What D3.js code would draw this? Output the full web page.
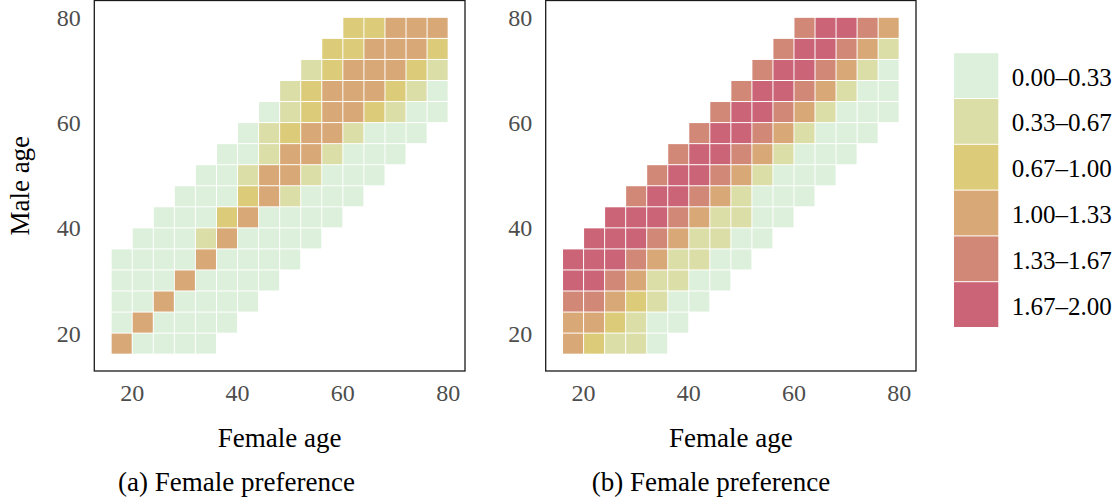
<!DOCTYPE html>
<html><head><meta charset="utf-8">
<script src="https://cdn.jsdelivr.net/npm/d3@7"></script>
<style>
html,body{margin:0;padding:0;background:#fff;}
svg{display:block;}
text{font-family:"Liberation Serif","DejaVu Serif",serif;font-variant-numeric:oldstyle-nums;}
</style></head><body>
<svg id="chart" width="1119" height="502"></svg>
<script>
// ---- data ----
const binStarts = [16,20,24,28,32,36,40,44,48,52,56,60,64,68,72,76]; // 4-year age bins
const binWidth = 4;
const tickValues = [20,40,60,80];
const thresholds = [0.33,0.67,1.00,1.33,1.67];
const legendLabels = ["0.00–0.33","0.33–0.67","0.67–1.00","1.00–1.33","1.33–1.67","1.67–2.00"];
const legendColors = ["#ddf0db","#dcdea7","#dccb78","#d9a877","#d28877","#cc6477"];
const xTitle = "Female age";
const yTitle = "Male age";
const captions = ["(a) Female preference","(b) Female preference"];
const n = null;
// rows: male age bin (16-20 first), columns: female age bin
const prefA = [
 [1.17,0.17,0.17,0.17,0.17,n,n,n,n,n,n,n,n,n,n,n],
 [0.17,1.17,0.17,0.17,0.17,0.17,n,n,n,n,n,n,n,n,n,n],
 [0.17,0.17,1.17,0.17,0.17,0.17,0.17,n,n,n,n,n,n,n,n,n],
 [0.17,0.17,0.17,1.17,0.17,0.17,0.17,0.17,n,n,n,n,n,n,n,n],
 [0.17,0.17,0.17,0.17,1.17,0.17,0.17,0.17,0.17,n,n,n,n,n,n,n],
 [n,0.17,0.17,0.17,0.50,1.17,0.17,0.17,0.17,0.17,n,n,n,n,n,n],
 [n,n,0.17,0.17,0.17,0.83,1.17,0.17,0.17,0.17,0.17,n,n,n,n,n],
 [n,n,n,0.17,0.17,0.17,0.83,1.17,0.50,0.17,0.17,0.17,n,n,n,n],
 [n,n,n,n,0.17,0.17,0.50,1.17,1.17,0.50,0.17,0.17,0.17,n,n,n],
 [n,n,n,n,n,0.17,0.17,0.50,1.17,1.17,0.50,0.17,0.17,0.17,n,n],
 [n,n,n,n,n,n,0.17,0.50,0.83,1.17,1.17,0.50,0.17,0.17,0.17,n],
 [n,n,n,n,n,n,n,0.17,0.50,0.83,1.17,1.17,0.83,0.50,0.17,0.17],
 [n,n,n,n,n,n,n,n,0.50,0.83,1.17,1.17,1.17,0.83,0.50,0.17],
 [n,n,n,n,n,n,n,n,n,0.50,0.83,1.17,1.17,1.17,0.83,0.50],
 [n,n,n,n,n,n,n,n,n,n,0.83,0.83,1.17,1.17,1.17,0.83],
 [n,n,n,n,n,n,n,n,n,n,n,0.83,0.83,1.17,1.17,1.17]
];
const prefB = [
 [1.17,0.83,0.50,0.50,0.17,n,n,n,n,n,n,n,n,n,n,n],
 [1.17,1.17,0.83,0.50,0.17,0.17,n,n,n,n,n,n,n,n,n,n],
 [1.50,1.50,1.17,0.83,0.50,0.17,0.17,n,n,n,n,n,n,n,n,n],
 [1.83,1.83,1.50,1.17,0.50,0.50,0.17,0.17,n,n,n,n,n,n,n,n],
 [1.83,1.83,1.83,1.50,1.17,0.50,0.50,0.17,0.17,n,n,n,n,n,n,n],
 [n,1.83,1.83,1.83,1.50,1.17,0.50,0.50,0.17,0.17,n,n,n,n,n,n],
 [n,n,1.83,1.83,1.83,1.50,1.17,0.50,0.50,0.17,0.17,n,n,n,n,n],
 [n,n,n,1.50,1.83,1.83,1.50,1.17,0.50,0.17,0.17,0.17,n,n,n,n],
 [n,n,n,n,1.50,1.83,1.83,1.50,1.17,0.50,0.17,0.17,0.17,n,n,n],
 [n,n,n,n,n,1.50,1.83,1.83,1.50,1.17,0.50,0.17,0.17,0.17,n,n],
 [n,n,n,n,n,n,1.50,1.83,1.83,1.50,1.17,0.50,0.17,0.17,0.17,n],
 [n,n,n,n,n,n,n,1.50,1.83,1.83,1.50,1.17,0.50,0.17,0.17,0.17],
 [n,n,n,n,n,n,n,n,1.50,1.83,1.83,1.50,1.17,0.50,0.17,0.17],
 [n,n,n,n,n,n,n,n,n,1.50,1.83,1.83,1.50,1.17,0.50,0.17],
 [n,n,n,n,n,n,n,n,n,n,1.50,1.83,1.83,1.50,1.17,0.50],
 [n,n,n,n,n,n,n,n,n,n,n,1.50,1.83,1.83,1.50,1.17]
];

// ---- layout ----
const svg = d3.select("#chart");
const color = d3.scaleThreshold().domain(thresholds).range(legendColors);
const domain = [12.8, 83.2];
const yTop = 0.5, yBottom = 371;
const panels = [
  {data: prefA, left: 94.3, right: 465, cap: captions[0], capX: 236.5, ylab: true},
  {data: prefB, left: 545.7, right: 916, cap: captions[1], capX: 711, ylab: false}
];
const FS = 27;

panels.forEach(p => {
  const x = d3.scaleLinear().domain(domain).range([p.left, p.right]);
  const y = d3.scaleLinear().domain(domain).range([yBottom, yTop]);
  const g = svg.append("g");
  const cells = [];
  p.data.forEach((row, j) => row.forEach((v, i) => {
    if (v !== null) cells.push({f: binStarts[i], m: binStarts[j], v});
  }));
  g.selectAll("rect.cell").data(cells).join("rect")
    .attr("class","cell")
    .attr("x", d => x(d.f) + 0.5)
    .attr("y", d => y(d.m + binWidth) + 0.5)
    .attr("width", d => x(d.f + binWidth) - x(d.f) - 1)
    .attr("height", d => y(d.m) - y(d.m + binWidth) - 1)
    .attr("fill", d => color(d.v));
  // frame
  g.append("rect")
    .attr("x", p.left).attr("y", yTop)
    .attr("width", p.right - p.left).attr("height", yBottom - yTop)
    .attr("fill","none").attr("stroke","#1a1a1a").attr("stroke-width",1.3);
  // x tick labels
  g.selectAll("text.xt").data(tickValues).join("text")
    .attr("class","xt")
    .attr("x", d => x(d)).attr("y", 401)
    .attr("text-anchor","middle")
    .attr("font-size", 24).attr("fill","#4d4d4d")
    .text(d => d);
  // y tick labels
  g.selectAll("text.yt").data(tickValues).join("text")
    .attr("class","yt")
    .attr("x", p.left - 13.5).attr("y", d => y(d))
    .attr("dy","0.35em")
    .attr("text-anchor","end")
    .attr("font-size", 24).attr("fill","#4d4d4d")
    .text(d => d);
  // x title
  g.append("text")
    .attr("x", (p.left + p.right) / 2).attr("y", 446.7)
    .attr("text-anchor","middle").attr("font-size", FS).attr("fill","#000")
    .text(xTitle);
  // caption
  g.append("text")
    .attr("x", p.capX).attr("y", 491)
    .attr("text-anchor","middle").attr("font-size", FS).attr("fill","#000")
    .text(p.cap);
  if (p.ylab) {
    g.append("text")
      .attr("transform", `translate(29,${(yTop + yBottom) / 2}) rotate(-90)`)
      .attr("text-anchor","middle").attr("font-size", FS).attr("fill","#000")
      .text(yTitle);
  }
});

// legend
const lx = 954, ly = 52.7, kw = 44.3, kh = 45.8;
const leg = svg.append("g");
leg.selectAll("rect").data(legendColors).join("rect")
  .attr("x", lx).attr("y", (d, i) => ly + i * kh + 0.5)
  .attr("width", kw).attr("height", kh - 1)
  .attr("fill", d => d);
leg.selectAll("text").data(legendLabels).join("text")
  .attr("x", 1011.7).attr("y", (d, i) => ly + i * kh + kh / 2 + 10)
  .attr("font-size", 25).attr("fill","#000")
  .text(d => d);
</script>
</body></html>
